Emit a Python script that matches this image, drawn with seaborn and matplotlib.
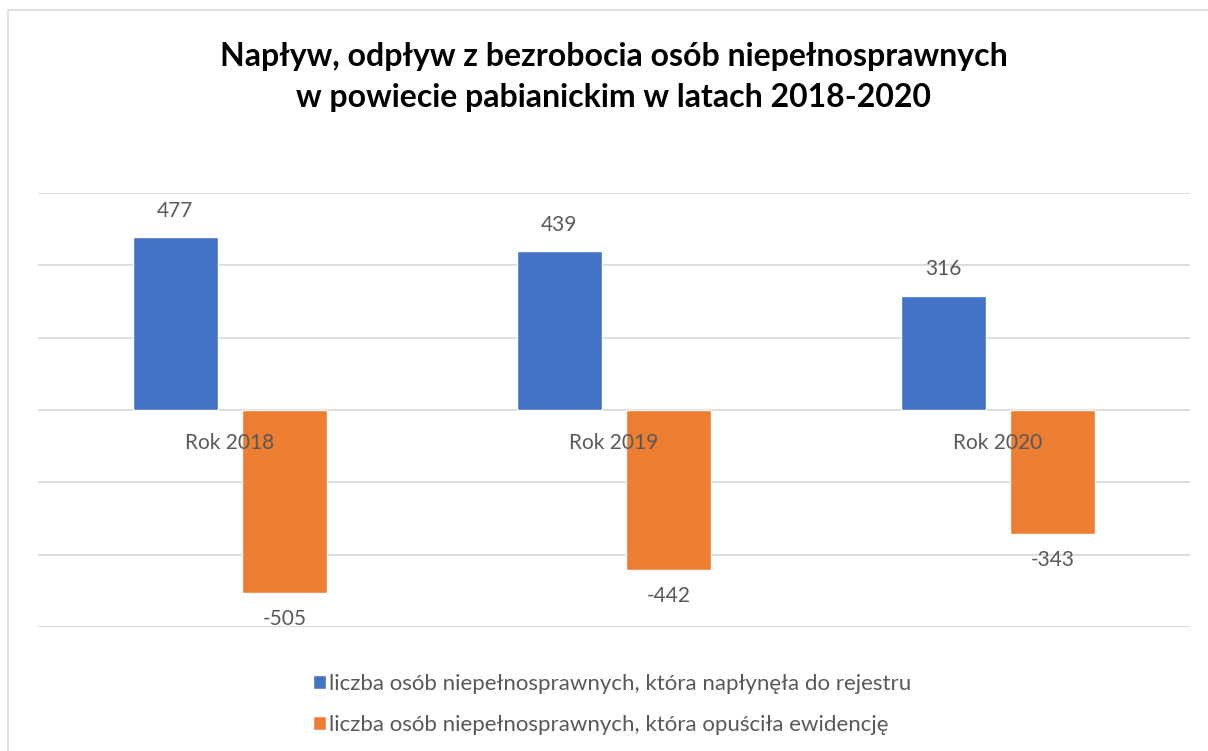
import matplotlib
matplotlib.use("Agg")
import matplotlib.pyplot as plt
import seaborn as sns
import pandas as pd
from matplotlib.patches import Rectangle

# data
years = ["Rok 2018", "Rok 2019", "Rok 2020"]
inflow = [477, 439, 316]
outflow = [-505, -442, -343]
series = ["liczba osób niepełnosprawnych, która napłynęła do rejestru",
          "liczba osób niepełnosprawnych, która opuściła ewidencję"]
title = "Napływ, odpływ z bezrobocia osób niepełnosprawnych\nw powiecie pabianickim w latach 2018-2020"

df = pd.DataFrame({
    "rok": years * 2,
    "wartosc": inflow + outflow,
    "seria": [series[0]] * len(years) + [series[1]] * len(years),
})

sns.set_theme(style="white")
plt.rcParams["font.family"] = ["Lato", "DejaVu Sans"]

text_gray = "#595959"
grid_gray = "#d9d9d9"
palette = ["#4472C4", "#ED7D31"]

fig = plt.figure(figsize=(12.08, 7.51), dpi=100)
ax = fig.add_axes([38 / 1208, 1 - 627 / 751, (1190 - 38) / 1208, (627 - 193) / 751])

sns.barplot(data=df, x="rok", y="wartosc", hue="seria", palette=palette,
            saturation=1, width=0.57, gap=0.22, ax=ax, legend=True, zorder=2)

ax.set_ylim(-600, 600)
ax.set_xlim(-0.5, 2.5)
ax.set_yticks(range(-600, 601, 200))
ax.yaxis.grid(True, color=grid_gray, linewidth=1.3, zorder=0)
ax.set_axisbelow(True)
ax.set_yticklabels([])
ax.set_xticks([])
ax.set_xlabel("")
ax.set_ylabel("")
ax.tick_params(left=False, bottom=False)
for s in ax.spines.values():
    s.set_visible(False)

# category labels at the zero line
for i, y in enumerate(years):
    ax.annotate(y, (i, 0), xytext=(0, -24), textcoords="offset points",
                ha="center", va="center", fontsize=15, color=text_gray, zorder=5)

# value labels
for cont in ax.containers:
    for bar in cont:
        h = bar.get_height()
        xc = bar.get_x() + bar.get_width() / 2
        off = 19 if h >= 0 else -19
        ax.annotate(f"{h:.0f}", (xc, h), xytext=(0, off), textcoords="offset points",
                    ha="center", va="center", fontsize=15, color=text_gray)

leg = ax.legend(loc="upper left", bbox_to_anchor=(304 / 1208, 1 - 665 / 751),
                bbox_transform=fig.transFigure, frameon=False, fontsize=16,
                handlelength=0.6, handleheight=0.6, handletextpad=0.12,
                labelspacing=0.95, borderaxespad=0)
for t in leg.get_texts():
    t.set_color(text_gray)

fig.text(0.508, 1 - 77 / 751, title, ha="center", va="center",
         fontsize=23, fontweight="bold", color="black", linespacing=1.5)

# chart border
fig.patches.append(Rectangle((8 / 1208, -0.05), 1.1, 1 - 10 / 751 + 0.05,
                             transform=fig.transFigure, fill=False,
                             edgecolor=grid_gray, linewidth=1.2))

fig.savefig("out.png", dpi=100)
